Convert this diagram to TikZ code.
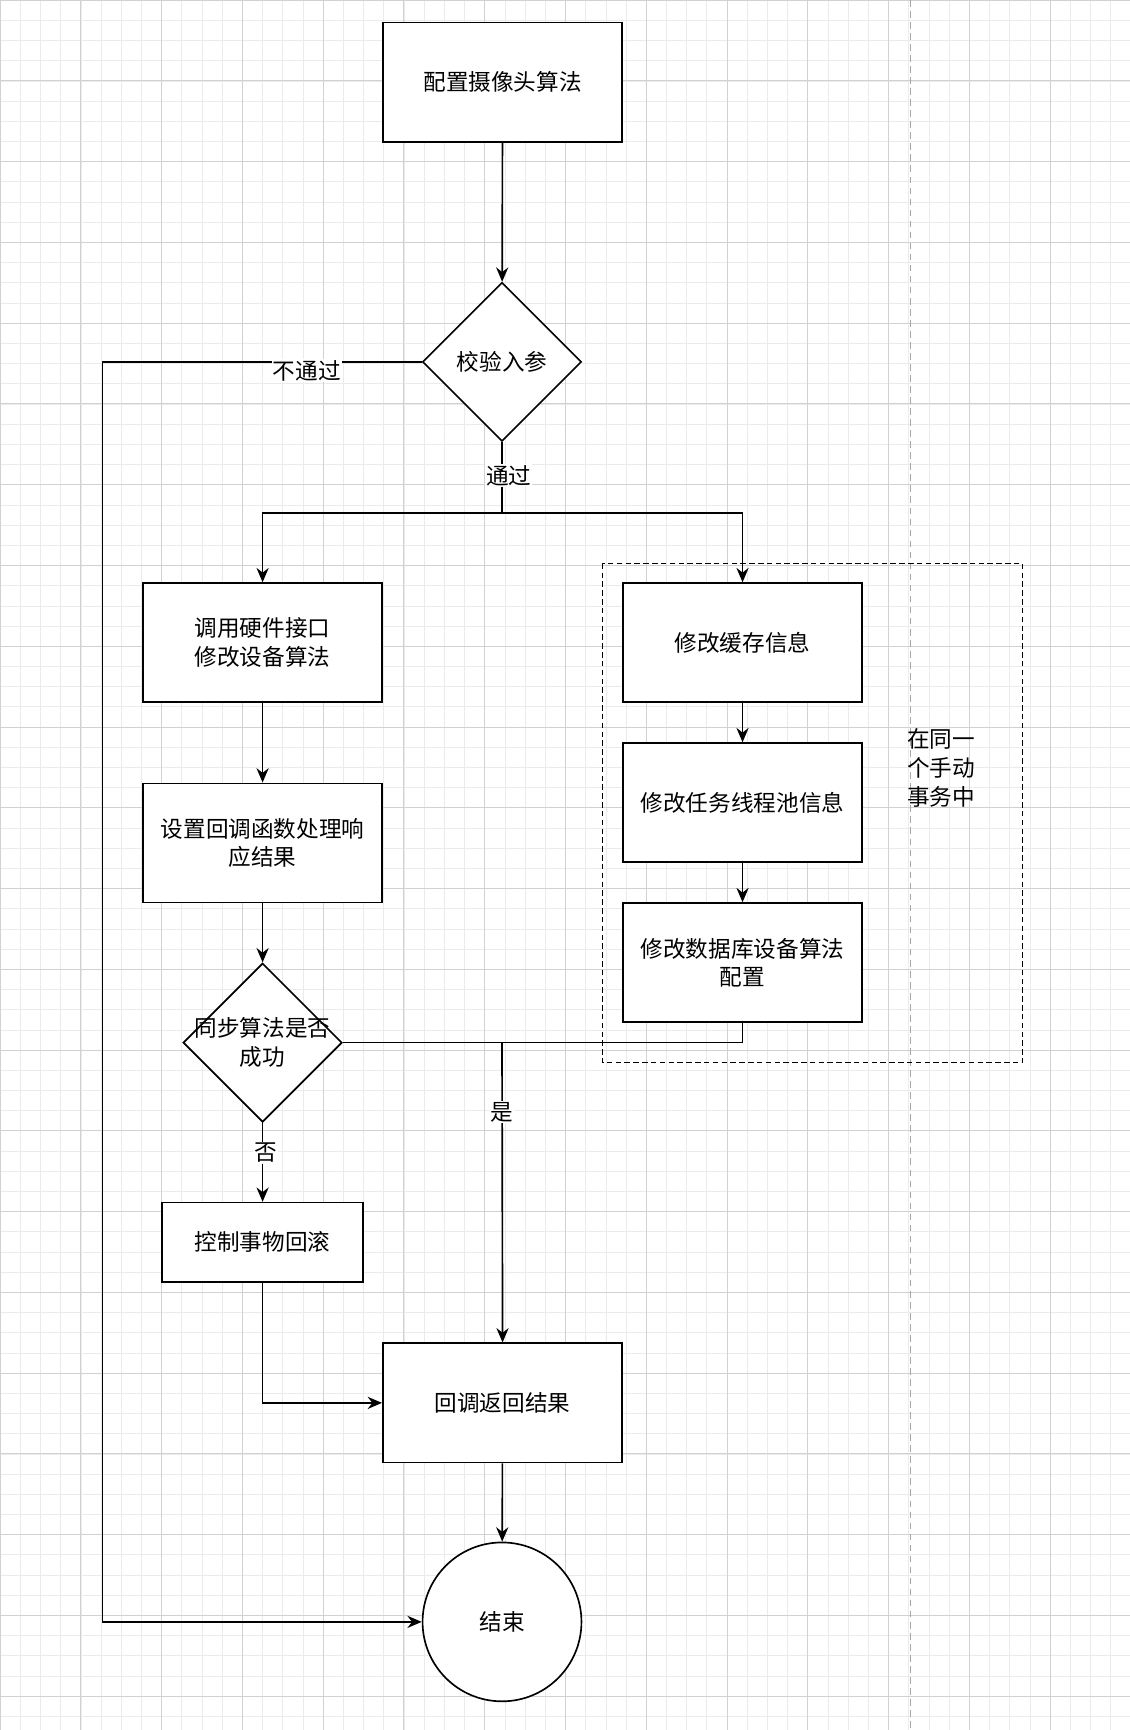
\documentclass[tikz,border=0pt]{standalone}
\usepackage{fontspec}
\setmainfont{Noto Sans CJK SC}
\usetikzlibrary{shapes.geometric,arrows.meta}
\tikzset{every picture/.style={line width=1.5pt}}
\tikzset{
  box/.style={draw, rectangle, minimum width=217pt, minimum height=108pt, align=center, inner sep=2pt},
  dia/.style={draw, diamond, minimum width=144pt, minimum height=144pt, inner sep=0pt, align=center},
  lbl/.style={fill=white, inner sep=1pt},
  arr/.style={-{Stealth[length=13pt,width=11pt]}}
}

\begin{document}
\begin{tikzpicture}[x=1pt,y=1pt,yscale=-1,font=\fontsize{20.5}{26}\selectfont]
\useasboundingbox (0,0) rectangle (1024,1568);
%background grid
\fill[white] (0,0) rectangle (1024,1568);
\draw[line width=0.4pt, black!8, step=18.3] (0,0) grid (1024,1568);
\draw[line width=0.6pt, black!18, step=73.2] (0,0) grid (1024,1568);
\draw[line width=1pt, black!35, dash pattern=on 6pt off 4pt] (825,0) -- (825,1568);

% Text Node
\node[box, fill=white] (cfg) at (455.5,74.5) {配置摄像头算法};
\node[dia, fill=white] (chk) at (455,328) {校验入参};
\node[box, fill=white] (hw) at (238,582.5) {调用硬件接口\\修改设备算法};
\node[box, fill=white] (cb) at (238,764) {设置回调函数处理响\\应结果};
\node[dia, fill=white] (sync) at (238,945) {};
\node[align=center] (synct) at (238,945) {同步算法是否\\成功};
\node[box, fill=white, minimum width=182pt, minimum height=72pt] (rb) at (238,1126) {控制事物回滚};
\node[box, fill=white] (ret) at (455.5,1271.5) {回调返回结果};
\node[draw, circle, fill=white, minimum size=144pt] (end) at (455,1470) {结束};
\node[box, fill=white] (cache) at (673,582.5) {修改缓存信息};
\node[box, fill=white] (pool) at (673,727.5) {修改任务线程池信息};
\node[box, fill=white] (db) at (673,872.5) {修改数据库设备算法\\配置};
\draw[line width=1.2pt, dash pattern=on 5pt off 3pt] (546,511) rectangle (927,963);
\node[align=left] (tx) at (853,696) {在同一\\个手动\\事务中};

%Connectors
\draw[arr] (cfg) -- (chk);
\draw[arr] (chk.west) -- (93,328) -- (93,1470) -- (end.west);
\node[lbl] at (278,336) {不通过};
\draw[arr] (chk.south) -- (455,465) -| (hw.north);
\draw[arr] (chk.south) -- (455,465) -| (cache.north);
\node[lbl] at (461,431) {通过};
\draw[arr] (hw) -- (cb);
\draw[arr] (cb) -- (sync);
\draw[arr] (cache) -- (pool);
\draw[arr] (pool) -- (db);
\draw (sync.east) -- (673,945) -- (db.south);
\draw[arr] (455,945) -- (ret.north);
\node[lbl] at (455,1008) {是};
\draw[arr] (sync.south) -- (rb.north);
\node[lbl] at (241,1045) {否};
\draw[arr] (rb.south) |- (ret.west);
\draw[arr] (ret) -- (end);

\end{tikzpicture}
\end{document}
